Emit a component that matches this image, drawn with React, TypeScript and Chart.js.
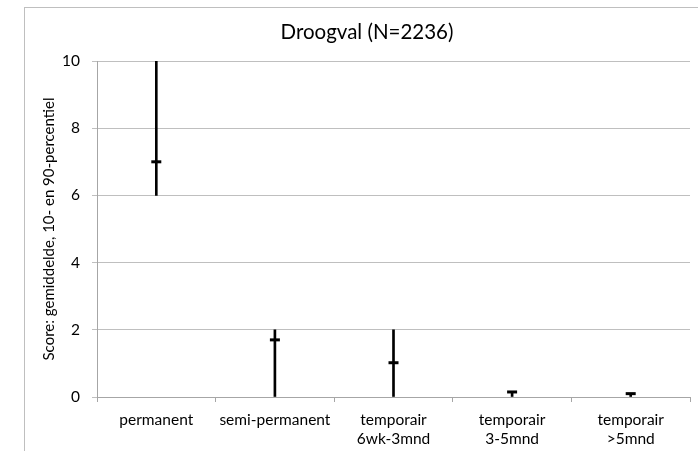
import React, { useEffect, useRef } from 'react';
import { Chart, registerables } from 'chart.js';

Chart.register(...registerables);

const categories: string[][] = [
  ['permanent'],
  ['semi-permanent'],
  ['temporair', '6wk-3mnd'],
  ['temporair', '3-5mnd'],
  ['temporair', '>5mnd'],
];
const p10: number[] = [6, 0, 0, 0, 0];
const p90: number[] = [10, 2, 2, 0.15, 0.1];
const means: number[] = [7.0, 1.7, 1.02, 0.15, 0.1];
const yMin = 0;
const yMax = 10;
const yStep = 2;
const chartTitle = 'Droogval (N=2236)';
const yAxisTitle = 'Score: gemiddelde, 10- en 90-percentiel';

const FONT = 'Lato, "Open Sans", sans-serif';

const decorPlugin = {
  id: 'decor',
  beforeDraw(chart: any) {
    const ctx = chart.ctx;
    ctx.save();
    ctx.fillStyle = '#ffffff';
    ctx.fillRect(0, 0, chart.width, chart.height);
    ctx.restore();
  },
  afterDraw(chart: any) {
    const ctx = chart.ctx;
    const area = chart.chartArea;
    ctx.save();
    // outer frame (clipped by canvas on right/bottom)
    ctx.strokeStyle = '#bfbfbf';
    ctx.lineWidth = 1;
    ctx.strokeRect(24.5, 7.5, 720, 480);
    // title
    ctx.fillStyle = '#000000';
    ctx.font = `20.5px ${FONT}`;
    ctx.textAlign = 'center';
    ctx.textBaseline = 'middle';
    ctx.fillText(chartTitle, 367, 32);
    // y axis title
    ctx.font = `15px ${FONT}`;
    ctx.translate(49, (area.top + area.bottom) / 2);
    ctx.rotate(-Math.PI / 2);
    ctx.fillText(yAxisTitle, 0, 0);
    ctx.restore();
  },
};

export default function App() {
  const ref = useRef<HTMLCanvasElement | null>(null);

  useEffect(() => {
    if (!ref.current) return;
    const chart = new Chart(ref.current, {
      type: 'bar',
      data: {
        labels: categories as any,
        datasets: [
          {
            type: 'bar',
            data: p10.map((lo, i) => [lo, p90[i]]) as any,
            backgroundColor: '#000000',
            borderWidth: 0,
            barThickness: 2,
            order: 2,
          } as any,
          {
            type: 'line',
            data: means,
            showLine: false,
            pointStyle: 'line',
            pointRadius: 5,
            borderWidth: 3,
            borderColor: '#000000',
            backgroundColor: '#000000',
            order: 1,
          } as any,
        ],
      },
      options: {
        responsive: false,
        animation: false,
        layout: { padding: { top: 61, right: 1, left: 0, bottom: 0 } },
        plugins: {
          legend: { display: false },
          tooltip: { enabled: false },
          title: { display: false },
        },
        scales: {
          x: {
            type: 'category',
            offset: true,
            grid: {
              offset: true,
              drawOnChartArea: false,
              drawTicks: true,
              tickLength: 5,
              color: '#a6a6a6',
            },
            border: { color: '#a6a6a6', width: 1 },
            ticks: {
              color: '#000000',
              font: { family: FONT, size: 15.5, lineHeight: 1.25 },
              padding: 8,
              maxRotation: 0,
              autoSkip: false,
            },
            afterFit: (s: any) => {
              s.height = 54;
            },
          },
          y: {
            min: yMin,
            max: yMax,
            ticks: {
              stepSize: yStep,
              color: '#000000',
              font: { family: FONT, size: 15.5 },
              padding: 12,
            },
            grid: { color: '#bfbfbf', tickLength: 5 },
            border: { color: '#a6a6a6', width: 1 },
            afterFit: (s: any) => {
              s.width = 97;
            },
          },
        },
      },
      plugins: [decorPlugin],
    });
    return () => chart.destroy();
  }, []);

  return (
    <div style={{ position: 'absolute', left: 0, top: 0, width: 698, height: 451 }}>
      <canvas ref={ref} width={698} height={451} style={{ display: 'block' }} />
    </div>
  );
}
